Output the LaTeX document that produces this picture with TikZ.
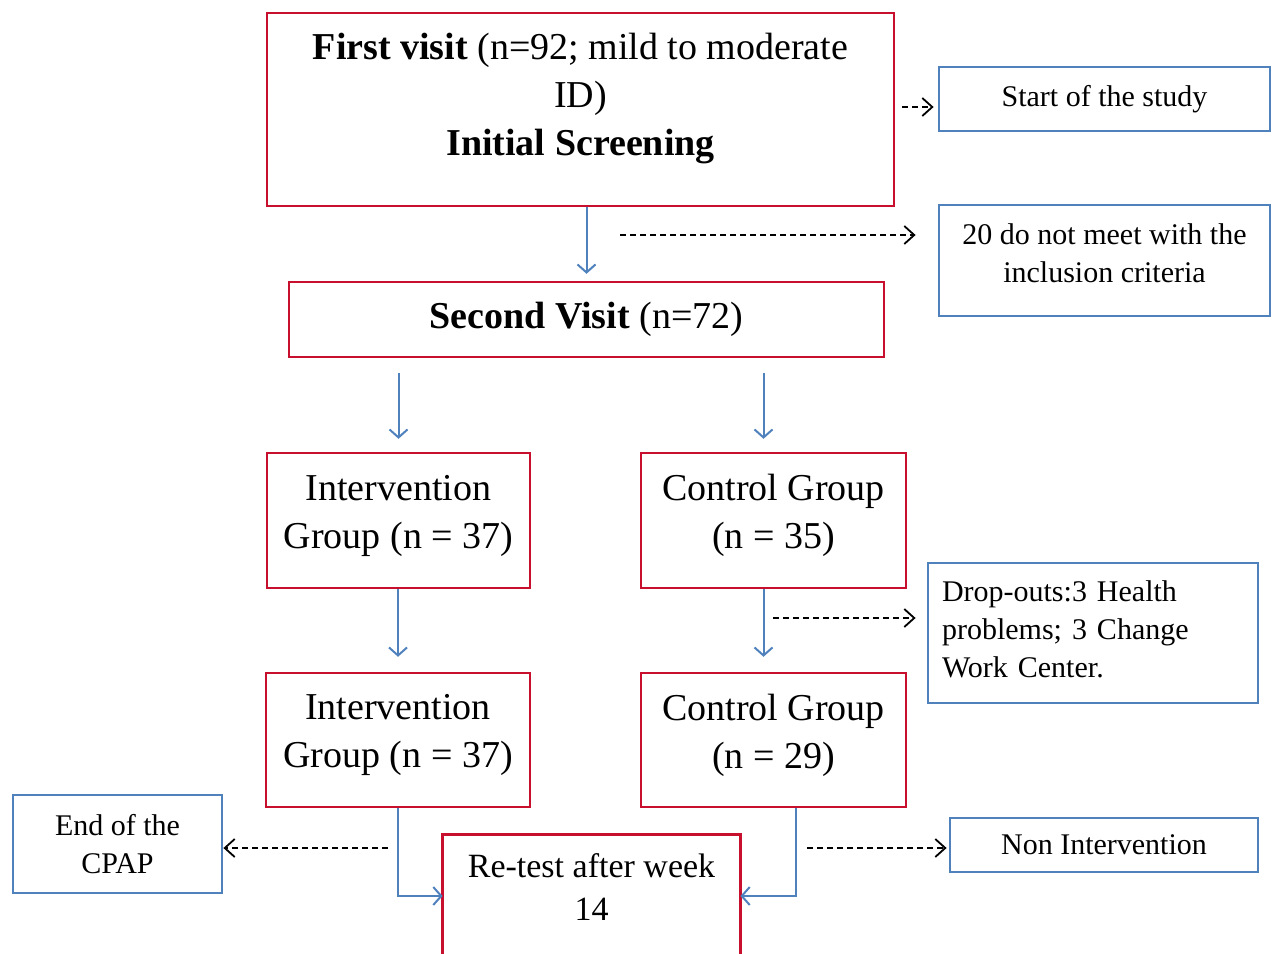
\documentclass[tikz,border=0pt]{standalone}
\usepackage{fontspec}
\setmainfont{Liberation Serif}
\usepackage{xcolor}
\usetikzlibrary{positioning,arrows.meta,calc}
\definecolor{boxred}{RGB}{200,16,46}
\definecolor{boxblue}{RGB}{79,129,189}
\newcommand{\bigtxt}{\fontsize{19}{24}\selectfont}
\newcommand{\smalltxt}{\fontsize{15}{19}\selectfont}
\newcommand{\padbelow}[1]{\rule[-#1]{0pt}{1pt}}

\begin{document}
\begin{tikzpicture}[x=0.5pt, y=-0.5pt,
  rbox/.style={draw=boxred, line width=1.2pt, align=center, inner sep=0pt, font=\bigtxt},
  bbox/.style={draw=boxblue, line width=1.4pt, align=center, inner sep=0pt, font=\smalltxt},
  barr/.style={draw=boxblue, line width=1pt, -{Straight Barb[length=4pt, width=9pt]}},
  darr/.style={black, line width=0.9pt, dash pattern=on 3pt off 2pt, -{Straight Barb[length=5pt, width=9pt]}}]
\useasboundingbox (0,0) rectangle (1273,953);
% main column
\node[rbox, minimum width=313.5pt, minimum height=96.5pt] (first) at (580.5,109.5)
  {\textbf{First visit} (n=92; mild to moderate\\ ID)\\ \textbf{Initial Screening}\padbelow{15pt}};
\node[rbox, minimum width=297.5pt, minimum height=37.5pt] (second) at (586.5,319.5) {\textbf{Second Visit} (n=72)};
\node[rbox, minimum width=131.5pt, minimum height=67.5pt] (int1) at (398.5,520.5) {Intervention\\ Group (n = 37)\padbelow{9pt}};
\node[rbox, minimum width=132.5pt, minimum height=67.5pt] (ctrl1) at (773.5,520.5) {Control Group\\ (n = 35)\padbelow{9pt}};
\node[rbox, minimum width=132pt, minimum height=67pt] (int2) at (398,740) {Intervention\\ Group (n = 37)\padbelow{9pt}};
\node[rbox, minimum width=132.5pt, minimum height=67pt] (ctrl2) at (773.5,740) {Control Group\\ (n = 29)\padbelow{9pt}};
\node[align=center, font=\fontsize{17}{21.5}\selectfont, minimum width=148.5pt, minimum height=52pt, inner sep=0pt] (retest) at (591.5,887) {Re-test after week\\ 14};
\draw[boxred, line width=1.2pt] ([yshift=-40pt]retest.south west) |- (retest.north) -| ([yshift=-40pt]retest.south east);
% side notes
\node[bbox, minimum width=165.5pt, minimum height=32pt] (start) at (1104.5,99) {Start of the study};
\node[bbox, minimum width=165.5pt, minimum height=55.5pt] (crit) at (1104.5,260.5) {20 do not meet with the\\ inclusion criteria\padbelow{7pt}};
\node[bbox, align=left, text width=151pt, inner xsep=7pt, minimum height=70pt] (drop) at (1093,633) {Drop-outs:3 Health\\ problems; 3 Change\\ Work Center.\padbelow{3.5pt}};
\node[bbox, minimum width=104.5pt, minimum height=49pt] (cpap) at (117.5,844) {End of the\\ CPAP};
\node[bbox, minimum width=154pt, minimum height=27pt] (nonint) at (1104,845) {Non Intervention};
% flow arrows
\coordinate (c1top) at ([xshift=-5pt]ctrl1.north);
\coordinate (c2top) at ([xshift=-5pt]ctrl2.north);
\draw[barr, shorten >=3.5pt] (first.south -| second.north) -- (second.north);
\draw[barr, shorten <=7.5pt, shorten >=6.5pt] (second.south -| int1.north) -- (int1.north);
\draw[barr, shorten <=7.5pt, shorten >=6.5pt] (second.south -| c1top) -- (c1top);
\draw[barr, shorten >=7.5pt] (int1.south -| int2.north) -- (int2.north);
\draw[barr, shorten >=7.5pt] (ctrl1.south -| c2top) -- (c2top);
\draw[barr] (int2.south) |- ([yshift=-4.5pt]retest.west);
\draw[barr] ([xshift=11.25pt]ctrl2.south) |- ([yshift=-4.5pt]retest.east);
% dashed notes
\coordinate (sp) at ([yshift=-4pt]start.west);
\coordinate (exc) at (620,235);
\coordinate (dro) at (773,618);
\coordinate (endp) at (388,848);
\coordinate (nip) at (807,848);
\draw[darr, shorten <=3.5pt, shorten >=2pt] (first.east |- sp) -- (sp);
\draw[darr, shorten >=11pt] (exc) -- (exc -| crit.west);
\draw[darr, shorten >=5.5pt] (dro) -- (dro -| drop.west);
\draw[darr] (endp) -- (endp -| cpap.east);
\draw[darr, shorten >=1pt] (nip) -- (nip -| nonint.west);
\end{tikzpicture}
\end{document}
